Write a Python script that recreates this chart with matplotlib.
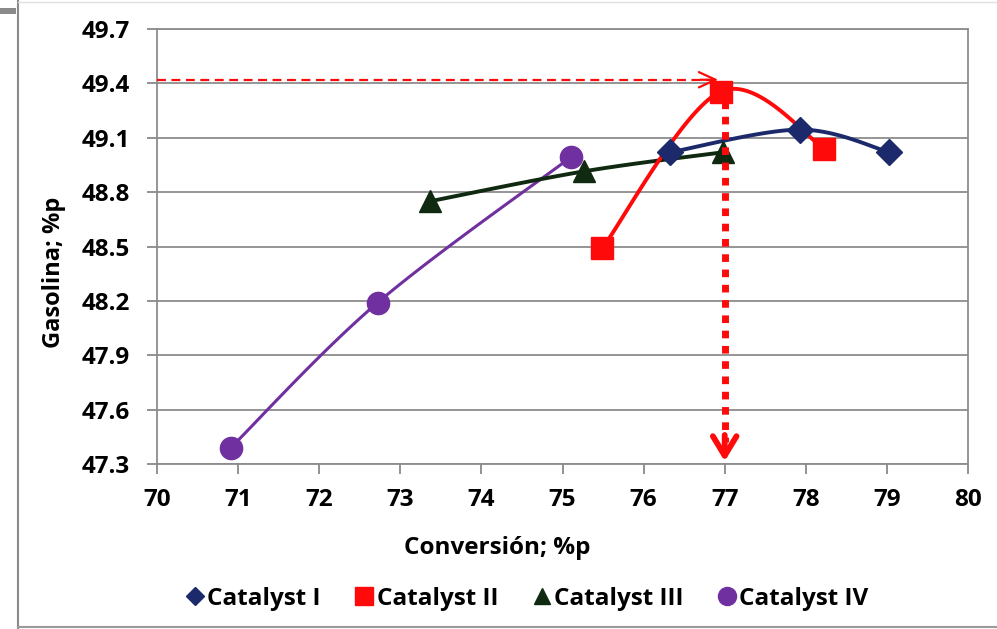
import numpy as np
import matplotlib
matplotlib.use("Agg")
import matplotlib.pyplot as plt
from matplotlib.lines import Line2D
from matplotlib.patches import Rectangle

plt.rcParams['font.family'] = ['Open Sans', 'DejaVu Sans']

# Series data: conversion (%p) vs gasoline yield (%p)
cat1_x = [76.33, 77.93, 79.03]
cat1_y = [49.02, 49.145, 49.02]
cat2_x = [75.49, 76.95, 78.23]
cat2_y = [48.49, 49.355, 49.04]
cat3_x = [73.37, 75.27, 76.98]
cat3_y = [48.75, 48.915, 49.02]
cat4_x = [70.91, 72.72, 75.11]
cat4_y = [47.39, 48.19, 48.995]

series_names = ['Catalyst I', 'Catalyst II', 'Catalyst III', 'Catalyst IV']

# Reading of the optimum on Catalyst II
opt_x = 77.0
opt_y = 49.42

x_ticks = list(range(70, 81))
y_ticks = [47.3, 47.6, 47.9, 48.2, 48.5, 48.8, 49.1, 49.4, 49.7]


def smooth(xs, ys, n=40):
    """Catmull-Rom style smoothing through the given points."""
    pts = np.column_stack([xs, ys])
    ext = np.vstack([pts[0], pts, pts[-1]])
    out = []
    for i in range(1, len(ext) - 2):
        p0, p1, p2, p3 = ext[i - 1], ext[i], ext[i + 1], ext[i + 2]
        c1 = p1 + (p2 - p0) / 6.0
        c2 = p2 - (p3 - p1) / 6.0
        t = np.linspace(0, 1, n)[:, None]
        seg = ((1 - t) ** 3) * p1 + 3 * ((1 - t) ** 2) * t * c1 \
            + 3 * (1 - t) * t ** 2 * c2 + t ** 3 * p2
        out.append(seg if i == 1 else seg[1:])
    arr = np.vstack(out)
    return arr[:, 0], arr[:, 1]


fig = plt.figure(figsize=(9.97, 6.29), dpi=100)
ax = fig.add_axes([157 / 997, 1 - 464 / 629, (968 - 157) / 997, (464 - 29) / 629])

navy = '#1c2a6b'
red = '#ff0a0a'
green = '#0f2a10'
purple = '#7030a0'

# Smoothed connecting lines
sx, sy = smooth(cat4_x, cat4_y)
ax.plot(sx, sy, color=purple, lw=2.2, zorder=3)
sx, sy = smooth(cat3_x, cat3_y)
ax.plot(sx, sy, color=green, lw=2.8, zorder=3)
sx, sy = smooth(cat1_x, cat1_y)
ax.plot(sx, sy, color=navy, lw=2.8, zorder=3)
sx, sy = smooth(cat2_x, cat2_y)
ax.plot(sx, sy, color=red, lw=2.8, zorder=3)

# Markers
ax.plot(cat4_x, cat4_y, 'o', color=purple, ms=16, zorder=4)
ax.plot(cat3_x, cat3_y, '^', color=green, ms=16, zorder=4)
ax.plot(cat1_x, cat1_y, 'D', color=navy, ms=13, zorder=5)
ax.plot(cat2_x, cat2_y, 's', color=red, ms=16, zorder=4)

# Guide lines to the optimum
ax.plot([70, opt_x - 0.1], [opt_y, opt_y], color=red, lw=1.6,
        dashes=(4, 2.5), zorder=6)
ax.annotate('', xy=(opt_x - 0.08, opt_y), xytext=(opt_x - 0.3, opt_y),
            arrowprops=dict(arrowstyle='->,head_length=1.2,head_width=0.55',
                            color=red, lw=1.6, shrinkA=0, shrinkB=0), zorder=6)
ax.plot([opt_x, opt_x], [cat2_y[1] - 0.05, 47.42], color=red, lw=5,
        dashes=(1.1, 1.1), solid_capstyle='butt', dash_capstyle='butt', zorder=6)
ax.annotate('', xy=(opt_x, 47.315), xytext=(opt_x, 47.46),
            arrowprops=dict(arrowstyle='->,head_length=1.4,head_width=0.85',
                            color=red, lw=4.2, shrinkA=0, shrinkB=0), zorder=6)

ax.set_xlim(70, 80)
ax.set_ylim(47.3, 49.7)
ax.set_xticks(x_ticks)
ax.set_yticks(y_ticks)
ax.set_xticklabels([str(v) for v in x_ticks])
ax.set_yticklabels([f'{v:.1f}' for v in y_ticks])
ax.tick_params(axis='both', labelsize=17.5, colors='#7f7f7f', labelcolor='black',
               length=7.5, width=1.2, direction='out')
ax.tick_params(axis='x', pad=10)
ax.tick_params(axis='y', pad=12)
for lab in ax.get_xticklabels() + ax.get_yticklabels():
    lab.set_fontweight('bold')

ax.grid(axis='y', color='#8c8c8c', lw=1.3)
ax.set_axisbelow(True)
for sp in ax.spines.values():
    sp.set_color('#8c8c8c')
    sp.set_linewidth(1.3)

fig.text(497 / 997, 1 - 548 / 629, 'Conversión; %p', ha='center', va='center',
         fontsize=17.5, fontweight='bold')
fig.text(54 / 997, 1 - 272 / 629, 'Gasolina; %p', ha='center', va='center',
         rotation=90, fontsize=17, fontweight='bold')

handles = [
    Line2D([], [], ls='none', marker='D', color=navy, ms=9),
    Line2D([], [], ls='none', marker='s', color=red, ms=13),
    Line2D([], [], ls='none', marker='^', color=green, ms=12),
    Line2D([], [], ls='none', marker='o', color=purple, ms=13),
]
fig.legend(handles, series_names, loc='center', bbox_to_anchor=(527 / 997, 1 - 599 / 629),
           ncol=4, frameon=False, prop={'weight': 'bold', 'size': 17.5},
           handlelength=0.8, handletextpad=0.1, columnspacing=1.4)

# Surrounding window frame
fig.add_artist(Line2D([17.5 / 997, 17.5 / 997], [0, 1], color='#8a8a8a', lw=1.5))
fig.add_artist(Line2D([17.5 / 997, 1], [1 - 627 / 629, 1 - 627 / 629], color='#9a9a9a', lw=1.5))
fig.add_artist(Line2D([17.5 / 997, 1], [1 - 1.5 / 629, 1 - 1.5 / 629], color='#e0e0e0', lw=1.0))
fig.add_artist(Rectangle((0, 1 - 14 / 629), 16 / 997, 6 / 629, transform=fig.transFigure,
                         color='#8a8a8a', lw=0))

fig.savefig('out.png', dpi=100)
